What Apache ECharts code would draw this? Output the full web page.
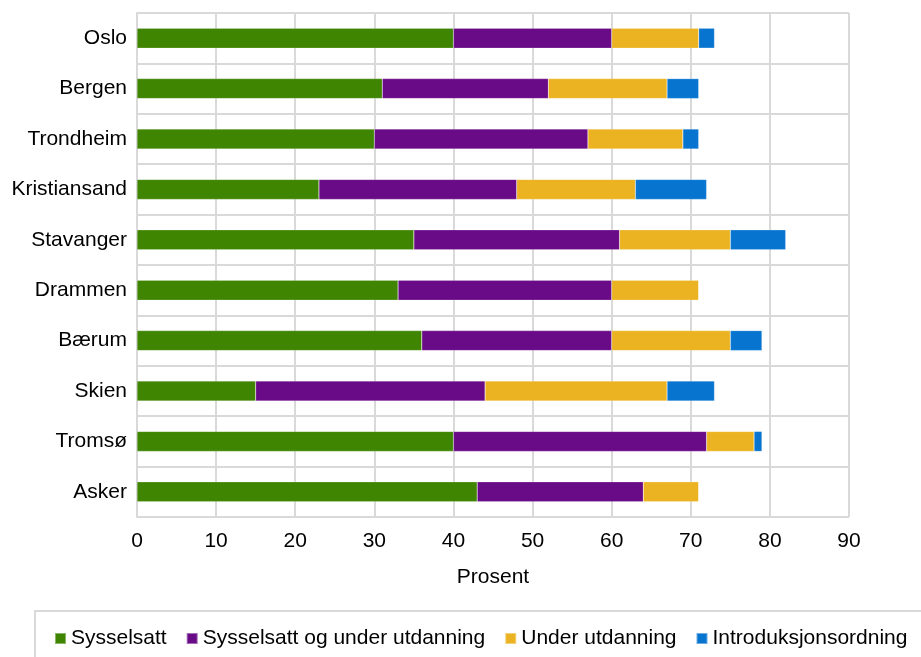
<!DOCTYPE html>
<html>
<head>
<meta charset="utf-8">
<script src="https://cdn.jsdelivr.net/npm/echarts@6/dist/echarts.min.js"></script>
<style>
html,body{margin:0;padding:0;background:#fff;}
#chart{width:921px;height:657px;}
</style>
</head>
<body>
<div id="chart"></div>
<script>
const categories = ["Oslo","Bergen","Trondheim","Kristiansand","Stavanger","Drammen","Bærum","Skien","Tromsø","Asker"];
const seriesNames = ["Sysselsatt","Sysselsatt og under utdanning","Under utdanning","Introduksjonsordning"];
const sysselsatt = [40,31,30,23,35,33,36,15,40,43];
const sysselsattUtdanning = [20,21,27,25,26,27,24,29,32,21];
const underUtdanning = [11,15,12,15,14,11,15,23,6,7];
const introduksjon = [2,4,2,9,7,0,4,6,1,0];
const xTicks = [0,10,20,30,40,50,60,70,80,90];
const colors = ["#3F8502","#690A86","#EBB321","#0775D0"];

const dataSets = [sysselsatt, sysselsattUtdanning, underUtdanning, introduksjon];
const font = "Liberation Sans, Arial, sans-serif";
const chart = echarts.init(document.getElementById('chart'));
chart.setOption({
  animation:false,
  grid:{left:137,right:72,top:13,bottom:140},
  xAxis:{
    type:'value', min:xTicks[0], max:xTicks[xTicks.length-1], interval:10,
    name:'Prosent', nameLocation:'middle', nameGap:50,
    nameTextStyle:{fontFamily:font,fontSize:21,color:'#000'},
    axisLine:{show:false}, axisTick:{show:false},
    axisLabel:{fontFamily:font,fontSize:21,color:'#000',margin:14},
    splitLine:{show:true,lineStyle:{color:'#d9d9d9',width:2}}
  },
  yAxis:{
    type:'category', data:categories, inverse:true,
    axisLine:{show:true,lineStyle:{color:'#d9d9d9',width:2}},
    axisTick:{show:false},
    axisLabel:{fontFamily:font,fontSize:21,color:'#000',margin:10},
    splitLine:{show:true,lineStyle:{color:'#d9d9d9',width:2}}
  },
  legend:{
    data:seriesNames, left:49, top:623, itemWidth:11, itemHeight:11, itemGap:19,
    icon:'rect',
    textStyle:{fontFamily:font,fontSize:21,color:'#000'}
  },
  graphic:[{type:'rect',shape:{x:35,y:611,width:900,height:60},style:{fill:'none',stroke:'#d9d9d9',lineWidth:2},silent:true}],
  series: seriesNames.map((n,i)=>({
    name:n, type:'bar', stack:'total', data:dataSets[i],
    barWidth:20,
    itemStyle:{color:colors[i], borderColor:'rgba(255,255,255,0.4)', borderWidth:0.5}
  }))
});
</script>
</body>
</html>
